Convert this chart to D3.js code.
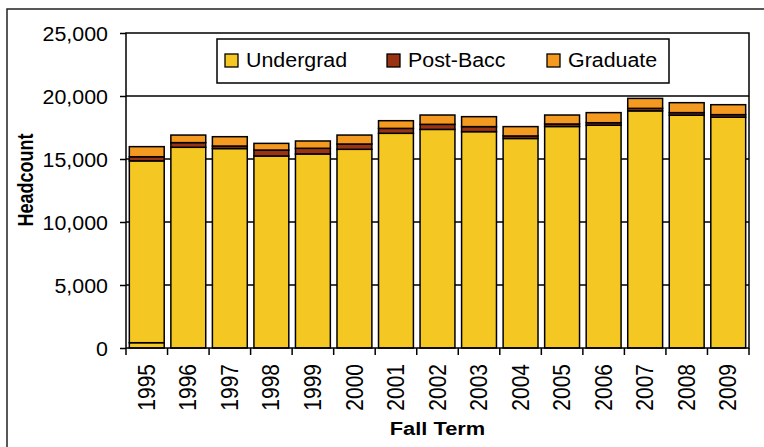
<!DOCTYPE html>
<html>
<head>
    <meta charset="utf-8">
    <title>Headcount by Fall Term</title>
    <script src="https://d3js.org/d3.v7.min.js"></script>
    <style>
        body { margin: 0; background: #fff; }
        svg { display: block; }
        text { font-family: Arial, "Liberation Sans", sans-serif; fill: #000; }
    </style>
</head>
<body>
<svg id="chart" width="764" height="447"></svg>

<script>
    var years = ["1995", "1996", "1997", "1998", "1999", "2000", "2001", "2002",
                 "2003", "2004", "2005", "2006", "2007", "2008", "2009"];

    // the 1995 undergrad bar is drawn in two pieces in the original
    var undergradLow = [420, 0, 0, 0, 0, 0, 0, 0, 0, 0, 0, 0, 0, 0, 0];
    var undergrad = [14430, 15930, 15830, 15240, 15400, 15770, 17040, 17350,
                     17170, 16630, 17580, 17680, 18820, 18480, 18320];
    var postBacc = [330, 370, 200, 470, 450, 420, 390, 400, 400, 200, 200, 200, 200, 200, 200];
    var graduate = [800, 600, 740, 530, 580, 710, 610, 740, 790, 740, 710, 800, 790, 790, 790];

    var yTicks = [0, 5000, 10000, 15000, 20000, 25000];

    var series = ["low", "Undergrad", "Post-Bacc", "Graduate"];
    var legendNames = ["Undergrad", "Post-Bacc", "Graduate"];
    var colors = { "low": "#f5c723", "Undergrad": "#f5c723", "Post-Bacc": "#993311", "Graduate": "#f59a21" };

    var rows = years.map(function(y, i) {
        return { year: y, "low": undergradLow[i], "Undergrad": undergrad[i],
                 "Post-Bacc": postBacc[i], "Graduate": graduate[i] };
    });

    var svg = d3.select("#chart");
    var plotL = 126, plotR = 749, plotT = 33, plotB = 348;

    var x = d3.scaleBand().domain(years).range([plotL, plotR])
        .paddingInner(0.16).paddingOuter(0.08);
    var y = d3.scaleLinear().domain([0, 25000]).range([plotB, plotT]);

    // outer frame
    svg.append("rect")
        .attr("x", 7).attr("y", 9).attr("width", 800).attr("height", 500)
        .attr("fill", "none").attr("stroke", "#222").attr("stroke-width", 1.5);

    // gridlines
    svg.append("g").selectAll("line")
        .data(yTicks.slice(1, -1))
        .enter().append("line")
        .attr("x1", plotL).attr("x2", plotR)
        .attr("y1", function(d) { return y(d); })
        .attr("y2", function(d) { return y(d); })
        .attr("stroke", "#000").attr("stroke-width", 1.3);

    // bars
    var stacked = d3.stack().keys(series)(rows);
    svg.append("g").selectAll("g")
        .data(stacked)
        .enter().append("g")
        .attr("fill", function(d) { return colors[d.key]; })
        .selectAll("rect")
        .data(function(d) { return d.filter(function(s) { return s[1] - s[0] > 0; }); })
        .enter().append("rect")
        .attr("x", function(d) { return x(d.data.year); })
        .attr("width", x.bandwidth())
        .attr("y", function(d) { return y(d[1]); })
        .attr("height", function(d) { return y(d[0]) - y(d[1]); })
        .attr("stroke", "#000").attr("stroke-width", 1.5);

    // plot border
    svg.append("rect")
        .attr("x", plotL).attr("y", plotT)
        .attr("width", plotR - plotL).attr("height", plotB - plotT)
        .attr("fill", "none").attr("stroke", "#000").attr("stroke-width", 1.5);

    // y axis
    var yAxis = svg.append("g").attr("transform", "translate(" + plotL + ",0)")
        .call(d3.axisLeft(y).tickValues(yTicks).tickSize(6)
            .tickFormat(d3.format(",")));
    yAxis.select(".domain").remove();
    yAxis.selectAll("line").attr("stroke", "#000").attr("stroke-width", 1.5);
    yAxis.selectAll("text")
        .attr("font-size", 20)
        .attr("text-anchor", "end")
        .attr("dy", "0.35em")
        .attr("x", null)
        .attr("transform", "translate(-18,0) scale(1.07,1)");

    // x axis ticks at category boundaries
    var step = x.step();
    svg.append("g").selectAll("line")
        .data(d3.range(years.length + 1))
        .enter().append("line")
        .attr("x1", function(i) { return plotL + i * step; })
        .attr("x2", function(i) { return plotL + i * step; })
        .attr("y1", plotB).attr("y2", plotB + 7)
        .attr("stroke", "#000").attr("stroke-width", 1.5);

    svg.append("g").selectAll("text")
        .data(years)
        .enter().append("text")
        .attr("transform", function(d) {
            return "translate(" + (x(d) + x.bandwidth() / 2) + "," + (plotB + 16) + ") scale(1.1,1) rotate(-90)";
        })
        .attr("text-anchor", "end")
        .attr("dy", "0.35em")
        .attr("font-size", 21)
        .text(function(d) { return d; });

    // axis titles
    svg.append("text")
        .attr("transform", "translate(" + ((plotL + plotR) / 2) + ",435) scale(1.15,1)")
        .attr("text-anchor", "middle")
        .attr("font-size", 19).attr("font-weight", "bold")
        .text("Fall Term");

    svg.append("text")
        .attr("transform", "translate(33,180) scale(1.2,1) rotate(-90)")
        .attr("text-anchor", "middle")
        .attr("font-size", 18).attr("font-weight", "bold")
        .text("Headcount");

    // legend
    var legend = svg.append("g");
    legend.append("rect")
        .attr("x", 217).attr("y", 39).attr("width", 452).attr("height", 44)
        .attr("fill", "#fff").attr("stroke", "#000").attr("stroke-width", 1.5);

    var legendX = [225, 387, 547];
    var item = legend.selectAll("g.item")
        .data(legendNames)
        .enter().append("g")
        .attr("class", "item")
        .attr("transform", function(d, i) { return "translate(" + legendX[i] + ",0)"; });
    item.append("rect")
        .attr("x", 0).attr("y", 54).attr("width", 13).attr("height", 13)
        .attr("fill", function(d) { return colors[d]; })
        .attr("stroke", "#000").attr("stroke-width", 1.3);
    item.append("text")
        .attr("transform", "translate(21,67) scale(1.07,1)")
        .attr("font-size", 20)
        .text(function(d) { return d; });
</script>
</body>
</html>
